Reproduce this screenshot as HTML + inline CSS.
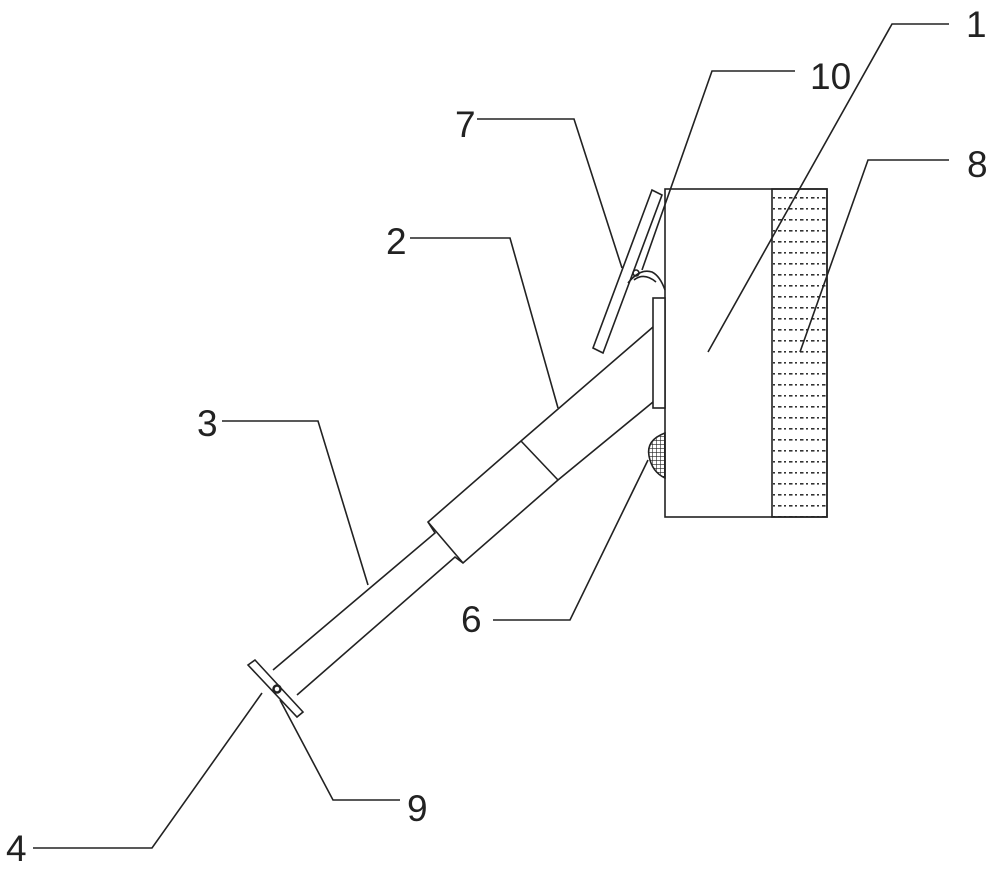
<!DOCTYPE html>
<html><head><meta charset="utf-8"><style>
html,body{margin:0;padding:0;background:#fff}
svg{display:block}
text{font-family:"Liberation Sans",sans-serif;font-size:37px;fill:#222}
</style></head><body>
<svg width="1000" height="875" viewBox="0 0 1000 875" xmlns="http://www.w3.org/2000/svg">
<defs>
<pattern id="dots" x="772" y="192" width="11" height="11" patternUnits="userSpaceOnUse">
<rect x="1" y="5" width="2" height="1.6" fill="#333"/>
<rect x="6" y="5" width="3.5" height="1.6" fill="#333"/>
</pattern>
<pattern id="hatch" x="0" y="0" width="4" height="4" patternUnits="userSpaceOnUse">
<rect width="4" height="4" fill="#fff"/>
<path d="M0 0H4M0 0V4" stroke="#222" stroke-width="1.2"/>
</pattern>
</defs>
<g fill="none" stroke="#222" stroke-width="1.6">
<!-- main box -->
<rect x="665" y="189" width="162" height="328" fill="#fff"/>
<rect x="772" y="189" width="55" height="328" fill="url(#dots)" stroke="#222"/>
<!-- mounting plate -->
<rect x="653" y="298" width="12" height="110" fill="#fff"/>
<!-- hemisphere 6 -->
<path d="M665 433 Q646 440 649 456 Q652 472 665 478 Z" fill="url(#hatch)"/>
<!-- panel 7 -->
<polygon points="593,348 603,353 662,195 652,190" fill="#fff"/>
<!-- hinge 10 -->
<path d="M628 283 Q640 268 652 272 Q660 276 665 290"/>
<path d="M634 280 Q644 272 656 282"/>
<circle cx="636" cy="273" r="3"/>
<!-- pole -->
<path d="M653 327 L521 441 L428 522 L435 533 L273 670"/>
<path d="M653 402 L558 480 L463 563 L455 557 L297 695"/>
<path d="M521 441 L558 480"/>
<path d="M428 522 L463 563"/>
<!-- crossbar 4 -->
<polygon points="248,665 255,660 303,712 297,717" fill="#fff"/>
<circle cx="277" cy="689" r="3.5" stroke-width="2.5"/>
<!-- leaders -->
<polyline points="949,24 892,24 708,352"/>
<polyline points="795,71 712,71 642,270"/>
<polyline points="477,119 574,119 622,268"/>
<polyline points="949,160 868,160 800,352"/>
<polyline points="410,238 510,238 558,408"/>
<polyline points="222,421 318,421 368,585"/>
<polyline points="493,620 570,620 648,460"/>
<polyline points="400,800 333,800 280,700"/>
<polyline points="33,848 152,848 262,693"/>
</g>
<text x="966" y="37">1</text>
<text x="810" y="89">10</text>
<text x="455" y="137">7</text>
<text x="967" y="177">8</text>
<text x="386" y="254">2</text>
<text x="197" y="436">3</text>
<text x="461" y="632">6</text>
<text x="407" y="821">9</text>
<text x="6" y="861">4</text>
</svg>
</body></html>
